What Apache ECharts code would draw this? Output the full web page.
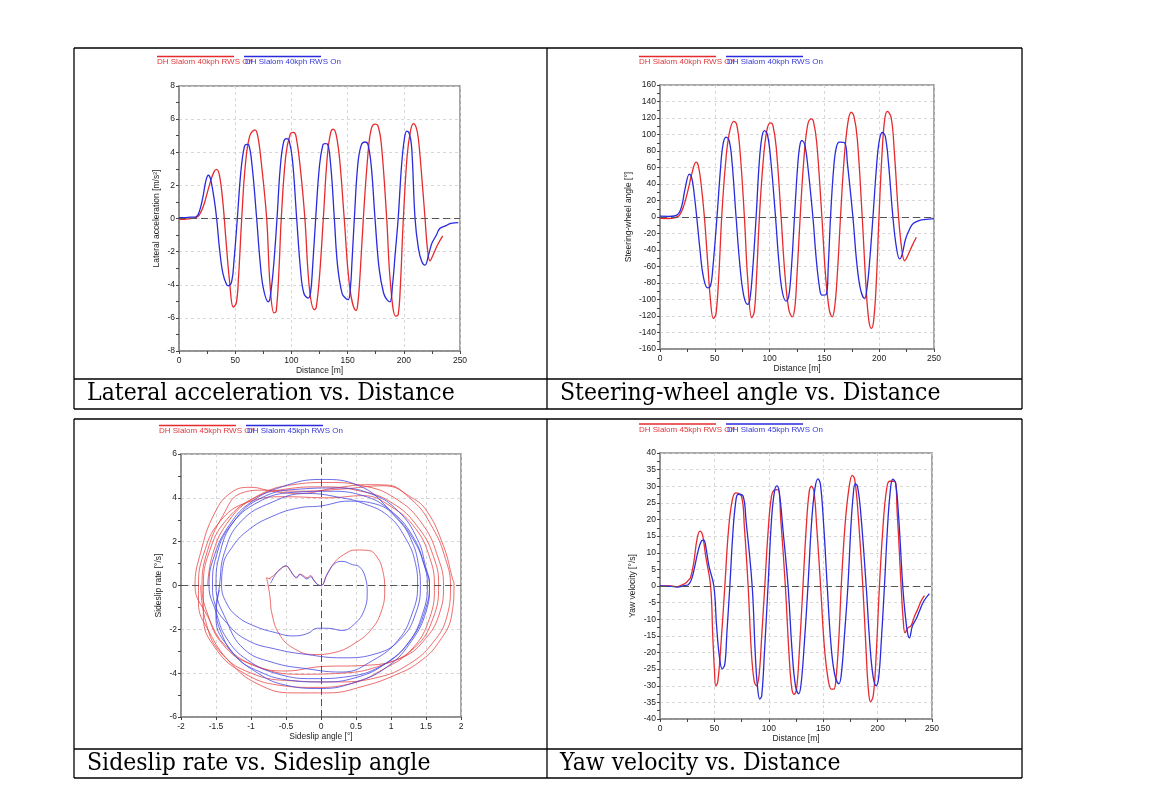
<!DOCTYPE html>
<html><head><meta charset="utf-8">
<script src="https://cdn.jsdelivr.net/npm/echarts@6/dist/echarts.min.js"></script>
<style>html,body{margin:0;padding:0;background:#fff}#c{width:1157px;height:789px}</style>
</head><body><div id="c"></div>
<script>
// ---------- DATA ----------
const CAPTIONS = ['Lateral acceleration vs. Distance', 'Steering-wheel angle vs. Distance',
                  'Sideslip rate vs. Sideslip angle', 'Yaw velocity vs. Distance'];
const LEGEND_40 = ['DH Slalom 40kph RWS Off', 'DH Slalom 40kph RWS On'];
const LEGEND_45 = ['DH Slalom 45kph RWS Off', 'DH Slalom 45kph RWS On'];
const X_NAMES = ['Distance [m]', 'Distance [m]', 'Sideslip angle [°]', 'Distance [m]'];
const Y_NAMES = ['Lateral acceleration [m/s²]', 'Steering-wheel angle [°]', 'Sideslip rate [°/s]', 'Yaw velocity [°/s]'];

// Panel 1: lateral acceleration [m/s2] vs distance [m]
const P1_OFF = [[0,-0.05],[5,-0.05],[10,0],[15,0.05],[18,0.2],[22,0.8],[27,2.0],[31,2.8],[33.5,2.97],[36,2.6],[39,1.0],[42,-1.5],[45,-3.8],[48.3,-5.35],[51,-5.1],[53,-3.5],[55.8,0],[59,3.2],[63,5.0],[67.6,5.35],[70,5.0],[73,3.5],[78,0],[81,-4],[84.5,-5.7],[86.5,-5.6],[89,-3],[91,0],[95,3.8],[99,5.1],[101.7,5.2],[104,5.0],[108,3],[112,0],[116,-4.2],[120.4,-5.5],[122,-5.4],[125,-3.5],[128.4,0],[132,3.8],[135,5.2],[137.3,5.4],[140,5],[143,3.5],[147,0],[152,-4.2],[157.5,-5.55],[159,-5.2],[161,-3.5],[164,0],[168,3.8],[171,5.4],[174.4,5.7],[177,5.6],[180,4.5],[184.8,0],[188,-3.8],[192.8,-5.9],[195,-5.8],[197,-4],[199.6,0],[203,3.8],[206,5.3],[208.5,5.73],[211,5.5],[213,4.8],[216,2.5],[218.9,0],[221,-1.8],[223.3,-2.55],[226,-2.2],[230,-1.6],[234.6,-1.05]];
const P1_ON = [[0,0.05],[5,0.05],[10,0.08],[15,0.1],[18,0.4],[21,1.2],[24,2.3],[26.1,2.61],[28,2.4],[31,1.3],[33.5,0],[36,-1.8],[39,-3.3],[42.4,-4.0],[44,-4.06],[46.9,-3.8],[49,-2.5],[51.9,0],[55,2.8],[58,4.3],[60.2,4.48],[62,4.45],[65,3.2],[69.1,0],[72,-2.5],[75,-4.2],[79.5,-5.03],[81,-4.8],[84,-3],[87.2,0],[90,3],[93,4.6],[95.8,4.82],[98,4.7],[101,3.5],[104.7,0],[108,-3],[111,-4.5],[115,-4.8],[117,-4.5],[119,-2.8],[121.6,0],[125,3.2],[128,4.45],[129.9,4.52],[132,4.5],[135,3.2],[138.2,0],[141,-2.8],[145,-4.5],[148.3,-4.82],[150.6,-4.9],[152.5,-4.2],[154,-2.5],[156,0],[159,3.2],[162,4.4],[165.5,4.62],[168,4.5],[171,3.2],[174.4,0],[178,-3],[182,-4.5],[185,-4.9],[187.7,-5.03],[190,-4],[192.5,-2],[195,0],[198,3.2],[200.5,4.8],[202.6,5.27],[205,5.1],[207,4.3],[210,0],[213,-1.8],[216,-2.6],[218.9,-2.81],[222,-2.2],[225,-1.5],[229,-1.0],[232,-0.6],[236.7,-0.46],[242,-0.3],[248.5,-0.25]];

// Panel 2: steering-wheel angle [deg] vs distance [m]
const P2_OFF = [[0,-1.6],[8,-1.8],[13,-1],[17.7,2],[22,15],[26,35],[29.5,55],[32.9,66.5],[35,62],[37.5,40],[40.5,0],[43.5,-55],[46,-100],[48.7,-123],[51,-118],[53.5,-75],[56.3,0],[59.5,60],[63,100],[67.3,116],[70,112],[73,80],[77,0],[80,-75],[83.7,-122],[86,-115],[88,-75],[90.7,0],[94,65],[97.5,105],[100.8,114],[103,111],[106,85],[110.5,0],[114,-70],[117.5,-112],[120.6,-121],[123,-110],[125,-70],[127.9,0],[131,65],[134.5,110],[137.9,119],[140,116],[143,90],[147.7,0],[151,-70],[154.5,-113],[157.1,-121],[159.5,-108],[162,-65],[164.7,0],[168,70],[171.5,115],[174.5,127],[177,122],[180,95],[184.5,0],[188,-85],[190.5,-125],[192.8,-135],[195,-125],[197.5,-75],[199.8,0],[202.5,75],[205,118],[207.4,128],[211,120],[214,75],[217.7,0],[220.5,-38],[223.2,-53],[226,-47],[230,-35],[233.9,-24.6]];
const P2_ON = [[0,1],[8,0.8],[13,1.2],[17,4],[20,14],[23,35],[26.8,52],[29,47],[31,30],[33.5,0],[36.5,-40],[39.5,-72],[43.5,-86],[46,-84],[48,-65],[52,0],[55,55],[57.5,88],[60.3,96.7],[63,93],[65.5,70],[69.4,0],[73,-60],[76.5,-96],[80,-106],[82,-100],[84.5,-65],[87.7,0],[90.5,65],[93,97],[95.3,104.8],[98,100],[101,70],[105.4,0],[108.5,-55],[111.5,-90],[115.1,-102],[117.5,-96],[120,-60],[122.7,0],[125.5,60],[127.5,86],[129.4,92.7],[132,88],[135,60],[139.5,0],[142.5,-50],[145.5,-85],[147.7,-94.7],[151.6,-94],[153.5,-60],[155.6,0],[158.5,60],[161,85],[163.8,90.7],[168.4,90],[171,65],[176,0],[179.5,-55],[183,-88],[186.7,-98.7],[189,-85],[191.5,-50],[194.3,0],[197.5,60],[200,92],[202.8,102.4],[205.5,98],[208.5,65],[212.5,0],[215.5,-35],[218.6,-50.8],[221,-45],[224,-27],[227.8,-14.5],[231,-8],[236.9,-4],[243,-3],[250,-2]];

// Panel 3: sideslip rate [deg/s] vs sideslip angle [deg]
const P3_OFF_START = [[-0.74,0.32],[-0.68,0.45],[-0.6,0.7],[-0.5,0.88],[-0.45,0.75],[-0.4,0.5],[-0.35,0.38],[-0.3,0.52],[-0.25,0.45],[-0.2,0.35],[-0.15,0.45],[-0.1,0.25],[-0.04,0.02],[0,0],[0.08,0.45],[0.18,1.0],[0.32,1.4],[0.5,1.62],[0.68,1.6],[0.8,1.3],[0.88,0.7],[0.91,-0.2],[0.86,-1.2],[0.72,-2.0],[0.5,-2.6],[0.2,-3.05],[-0.1,-3.15],[-0.4,-2.85],[-0.6,-2.2],[-0.7,-1.3],[-0.73,-0.5],[-0.76,0.1],[-0.78,0.35],[-0.72,0.3]];
const P3_OFF_LOOPS = [[-1.62,0],[-1.55,1.4],[-1.35,2.8],[-1.0,3.9],[-0.5,4.4],[0,4.5],[0.5,4.35],[1.0,3.8],[1.4,2.6],[1.62,1.2],[1.68,0],[1.6,-1.5],[1.35,-2.8],[0.9,-3.6],[0.3,-4.0],[-0.3,-4.05],[-0.9,-3.7],[-1.35,-2.8],[-1.62,-1.4],
 [-1.8,0],[-1.72,1.5],[-1.52,3.3],[-1.28,4.25],[-1.0,4.48],[-0.7,4.3],[-0.3,4.2],[0.2,4.45],[0.7,4.6],[0.95,4.58],[1.25,4.1],[1.5,3.45],[1.75,1.8],[1.88,0.3],[1.9,0.1],[1.87,-1.3],[1.68,-2.6],[1.4,-3.5],[1.05,-4.1],[0.6,-4.6],[0.1,-4.9],[-0.4,-4.9],[-0.9,-4.5],[-1.3,-3.5],[-1.6,-2.1],[-1.75,-0.8],
 [-1.75,0],[-1.68,1.4],[-1.45,2.9],[-1.05,3.8],[-0.5,4.05],[0.1,4.0],[0.6,4.1],[1.0,3.6],[1.35,2.6],[1.55,1.3],[1.62,0],[1.55,-1.5],[1.3,-2.9],[0.9,-3.8],[0.4,-4.5],[-0.1,-4.65],[-0.6,-4.55],[-1.1,-4.0],[-1.5,-2.9],[-1.68,-1.4],
 [-1.68,0],[-1.6,1.5],[-1.35,3.0],[-0.9,4.1],[-0.4,4.6],[0.1,4.7],[0.6,4.55],[1.05,4.0],[1.45,2.8],[1.68,1.2],[1.75,0],[1.7,-1.2],[1.5,-2.4],[1.15,-3.3],[0.6,-3.65],[0,-3.7],[-0.5,-3.9],[-1.0,-3.6],[-1.4,-2.7],[-1.62,-1.3],
 [-1.7,0],[-1.62,1.6],[-1.4,3.2],[-1.15,4.2],[-0.8,4.35],[-0.3,4.3],[0.3,4.4],[0.9,4.55],[1.3,3.9],[1.6,2.6],[1.78,1.2],[1.85,0],[1.8,-1.4],[1.6,-2.6],[1.25,-3.6],[0.8,-4.2],[0.2,-4.4],[-0.4,-4.35],[-1.0,-4.0],[-1.45,-3.0],[-1.65,-1.6],[-1.72,0]];
const P3_ON_START = [[-0.72,0.1],[-0.65,0.5],[-0.58,0.75],[-0.5,0.9],[-0.44,0.7],[-0.4,0.5],[-0.35,0.35],[-0.3,0.5],[-0.26,0.42],[-0.2,0.3],[-0.15,0.4],[-0.1,0.22],[-0.04,0.03],[0,0]];
const P3_ON_LOOPS = [[0.1,0.6],[0.22,1.05],[0.3,1.1],[0.45,0.95],[0.55,0.85],[0.63,0.4],[0.66,-0.3],[0.62,-1.1],[0.48,-1.75],[0.3,-2.05],[0.1,-1.95],[-0.05,-1.95],[-0.2,-2.2],[-0.4,-2.3],[-0.65,-2.15],[-0.95,-1.85],[-1.2,-1.4],[-1.35,-0.8],[-1.42,0],[-1.4,0.9],[-1.28,1.7],[-1.05,2.5],[-0.7,3.15],[-0.3,3.55],[0,3.63],[0.4,3.85],[0.8,3.7],[1.1,3.0],[1.3,2.0],[1.4,0.8],[1.42,0],[1.35,-1.3],[1.15,-2.4],[0.8,-3.1],[0.3,-3.3],[-0.2,-3.15],[-0.65,-2.9],[-1.05,-2.5],[-1.35,-1.7],[-1.52,-0.8],
 [-1.55,0],[-1.5,1.3],[-1.3,2.7],[-0.9,3.8],[-0.4,4.25],[0.1,4.3],[0.6,4.1],[1.0,3.4],[1.3,2.3],[1.47,1.0],[1.52,0],[1.45,-1.3],[1.25,-2.6],[0.9,-3.6],[0.4,-4.15],[-0.1,-4.25],[-0.6,-4.05],[-1.05,-3.4],[-1.35,-2.4],[-1.5,-1.2],
 [-1.6,0],[-1.52,1.4],[-1.3,2.8],[-1.0,3.8],[-0.56,4.5],[0,4.84],[0.53,4.57],[1.01,3.35],[1.34,1.98],[1.49,0.77],[1.55,0],[1.5,-1.2],[1.3,-2.5],[0.95,-3.7],[0.5,-4.4],[0,-4.7],[-0.5,-4.55],[-0.95,-3.9],[-1.3,-2.9],[-1.5,-1.5],
 [-1.45,0],[-1.38,1.5],[-1.15,2.9],[-0.7,3.8],[-0.2,4.2],[0.3,4.0],[0.6,3.75],[0.95,3.2],[1.2,2.2],[1.35,1.0],[1.38,0],[1.3,-1.3],[1.1,-2.5],[0.75,-3.4],[0.3,-3.95],[-0.2,-3.8],[-0.7,-3.5],[-1.1,-2.9],[-1.35,-1.6],
 [-1.5,0],[-1.45,1.4],[-1.25,2.9],[-0.85,4.0],[-0.3,4.4],[0.2,4.45],[0.7,4.2],[1.1,3.4],[1.38,2.1],[1.5,0.8],[1.55,0.1],[1.5,-1.0],[1.3,-2.4],[0.95,-3.5],[0.5,-4.2],[0,-4.4],[-0.5,-4.3],[-0.9,-3.9],[-1.2,-3.3],[-1.42,-2.2],[-1.5,-1.0],[-1.45,-0.2]];

// Panel 4: yaw velocity [deg/s] vs distance [m]
const P4_OFF = [[0,0],[10,0],[16,-0.2],[20,0.3],[24,1],[26,1.7],[28,2.5],[31,7],[34,14],[36.7,16.5],[39,15.5],[42,9],[46.5,0],[48.5,-15],[50,-25],[51.3,-30],[53,-29],[55.5,-20],[59.6,0],[63,17],[66.5,26],[69.7,28],[74.9,27],[77.5,18],[81,0],[84,-20],[86.5,-28.5],[88.6,-30],[91,-27],[93.5,-15],[96.3,0],[99.5,17],[102.5,27],[105.4,28.9],[108.5,29],[111,20],[115.2,0],[118.5,-20],[121,-30.5],[123.2,-32.6],[125.5,-31],[128,-20],[131.4,0],[134.5,18],[137,28],[139.1,30],[141.5,28.5],[144,18],[147.6,0],[151,-18],[154.5,-28],[157.5,-31],[159.8,-31],[162,-27],[164.5,-15],[166.6,0],[170,18],[173.5,29],[176.7,33.3],[179,32],[182,22],[186.4,0],[189.5,-20],[191.5,-31],[193.5,-34.8],[196,-33],[198.5,-22],[201.7,0],[205,18],[208,28.5],[210.9,31.5],[215.5,31.5],[218,22],[221.6,0],[223.5,-10],[225.2,-14.1],[228,-12.5],[230.7,-12],[234,-9],[236.9,-7],[240,-4.5],[243,-2.9]];
const P4_ON = [[0,0],[10,-0.1],[16,-0.3],[22,0.1],[26,0.4],[29,2],[32,6],[35,10.5],[38,13.5],[40.3,13.8],[42,12],[45,6],[49.5,0],[52,-12],[54.5,-21],[57.2,-24.9],[59.6,-23.5],[61.5,-14],[64.2,0],[67,16],[69.5,25],[71.8,27.6],[76.4,27],[79,20],[84.7,0],[87.5,-20],[89.5,-30],[91.7,-34],[93.5,-33],[96,-20],[99.3,0],[102.5,20],[105,28],[107.3,30.1],[109.5,28.5],[113,17],[117.7,0],[121.5,-20],[124.5,-30],[127.4,-32.4],[129.5,-30],[132.5,-18],[136,0],[139.5,20],[142.5,29.5],[145.2,32.2],[147.5,30.5],[150.5,18],[153.7,0],[157,-17],[160.5,-26.5],[164.4,-29.4],[166.5,-27],[169.5,-15],[172.7,0],[175.5,18],[177.5,27],[179.4,30.7],[181.5,30],[184.5,22],[189.5,0],[193,-18],[196,-27.5],[198.7,-30],[201,-27.5],[203.5,-16],[206.3,0],[209,17],[211.5,28],[213.9,32.1],[216.5,31],[219.5,20],[223.1,0],[225.5,-9],[227.5,-14],[229.2,-15.6],[232,-12],[235.3,-10],[238.5,-7.5],[242.4,-4.6],[247.6,-2.3]];

// ---------- CHART ----------
const RED = '#e62a2e', BLUE = '#2a2ade';
const FONT = '"Liberation Sans", Arial, sans-serif';
const grids = [
  {left:179, top:86, width:281, height:265},
  {left:660, top:85, width:274, height:264},
  {left:181, top:454, width:280, height:263},
  {left:660, top:453, width:272, height:266}
].map(g => Object.assign(g, {show:true, borderColor:'#8a8a8a', borderWidth:1.5, containLabel:false}));

function axis(gi, min, max, interval, name, nameGap, minor, isY) {
  return {
    gridIndex: gi, type: 'value', min, max, interval,
    name, nameLocation: 'middle', nameGap,
    nameTextStyle: {fontFamily: FONT, fontSize: 8.5, color: '#222'},
    axisLine: {show: true, onZero: false, lineStyle: {color: '#8a8a8a', width: 1.5}},
    axisTick: {show: true, length: 3, lineStyle: {color: '#444', width: 1}},
    minorTick: {show: minor, splitNumber: 2, length: 3, lineStyle: {color: '#444', width: 1}},
    minorSplitLine: {show: false},
    axisLabel: {fontFamily: FONT, fontSize: 8.5, color: '#222', margin: isY ? 4 : 5},
    splitLine: {show: true, lineStyle: {color: '#cfcfcf', type: [3, 3], width: 0.8}}
  };
}
const xAxes = [
  axis(0, 0, 250, 50, X_NAMES[0], 14, true, false),
  axis(1, 0, 250, 50, X_NAMES[1], 14, true, false),
  axis(2, -2, 2, 0.5, X_NAMES[2], 13, false, false),
  axis(3, 0, 250, 50, X_NAMES[3], 15, true, false)
];
const yAxes = [
  axis(0, -8, 8, 2, Y_NAMES[0], 18, true, true),
  axis(1, -160, 160, 20, Y_NAMES[1], 27, true, true),
  axis(2, -6, 6, 2, Y_NAMES[2], 18, true, true),
  axis(3, -40, 40, 5, Y_NAMES[3], 23, true, true)
];
const zeroLine = (both) => ({
  silent: true, symbol: 'none', label: {show: false}, animation: false,
  lineStyle: {color: '#555', type: [7, 4], width: 1},
  data: both ? [{yAxis: 0}, {xAxis: 0}] : [{yAxis: 0}]
});
function line(gi, name, data, color, width, smooth, ml) {
  const s = {type: 'line', name, xAxisIndex: gi, yAxisIndex: gi, data, showSymbol: false, symbol: 'none',
    smooth, lineStyle: {color, width}, itemStyle: {color}, animation: false, connectNulls: false, z: 3};
  if (ml) s.markLine = ml;
  return s;
}
const series = [
  line(0, LEGEND_40[0], P1_OFF, RED, 1.3, 0.4, zeroLine(false)),
  line(0, LEGEND_40[1], P1_ON, BLUE, 1.3, 0.4),
  line(1, LEGEND_40[0], P2_OFF, RED, 1.3, 0.4, zeroLine(false)),
  line(1, LEGEND_40[1], P2_ON, BLUE, 1.3, 0.4),
  line(2, LEGEND_45[0], P3_OFF_START.concat([['-', '-']], P3_OFF_LOOPS), '#e84848', 0.8, 0.45, zeroLine(true)),
  line(2, LEGEND_45[1], P3_ON_START.concat(P3_ON_LOOPS), '#4848e2', 0.8, 0.45),
  line(3, LEGEND_45[0], P4_OFF, RED, 1.3, 0.4, zeroLine(false)),
  line(3, LEGEND_45[1], P4_ON, BLUE, 1.3, 0.4)
];

// table frame, captions and legends
const g = [];
function hl(x1, x2, y) { g.push({type:'line', shape:{x1, y1:y, x2, y2:y}, style:{stroke:'#000', lineWidth:1.3}, silent:true}); }
function vl(x, y1, y2) { g.push({type:'line', shape:{x1:x, y1, x2:x, y2}, style:{stroke:'#000', lineWidth:1.3}, silent:true}); }
hl(74, 1022, 48); hl(74, 1022, 379); hl(74, 1022, 409); vl(74, 48, 409); vl(547, 48, 409); vl(1022, 48, 409);
hl(74, 1022, 419); hl(74, 1022, 749); hl(74, 1022, 778); vl(74, 419, 778); vl(547, 419, 778); vl(1022, 419, 778);
function caption(text, x, y) {
  g.push({type:'text', x, y, silent:true, style:{text, fill:'#000', font:'24.5px "DejaVu Serif Condensed", "DejaVu Serif", serif',
    textAlign:'left', textVerticalAlign:'middle', align:'left', verticalAlign:'middle'}});
}
caption(CAPTIONS[0], 87, 394); caption(CAPTIONS[1], 560, 394);
caption(CAPTIONS[2], 87, 764); caption(CAPTIONS[3], 560, 764);
function legend(labels, lx, ly) {
  g.push({type:'line', shape:{x1:lx, y1:ly, x2:lx+77, y2:ly}, style:{stroke:RED, lineWidth:1.5}, silent:true});
  g.push({type:'line', shape:{x1:lx+87, y1:ly, x2:lx+164, y2:ly}, style:{stroke:BLUE, lineWidth:1.5}, silent:true});
  g.push({type:'text', x:lx, y:ly+5.5, silent:true, style:{text:labels[0], fill:'#e0383c', font:'8px ' + FONT, textVerticalAlign:'middle', verticalAlign:'middle'}});
  g.push({type:'text', x:lx+88, y:ly+5.5, silent:true, style:{text:labels[1], fill:'#3838d8', font:'8px ' + FONT, textVerticalAlign:'middle', verticalAlign:'middle'}});
}
legend(LEGEND_40, 157, 56.5); legend(LEGEND_40, 639, 56.5);
legend(LEGEND_45, 159, 425.5); legend(LEGEND_45, 639, 424);

const chart = echarts.init(document.getElementById('c'), null, {renderer: 'canvas'});
chart.setOption({
  backgroundColor: '#fff',
  animation: false,
  grid: grids,
  xAxis: xAxes,
  yAxis: yAxes,
  series,
  graphic: g
});
</script></body></html>
